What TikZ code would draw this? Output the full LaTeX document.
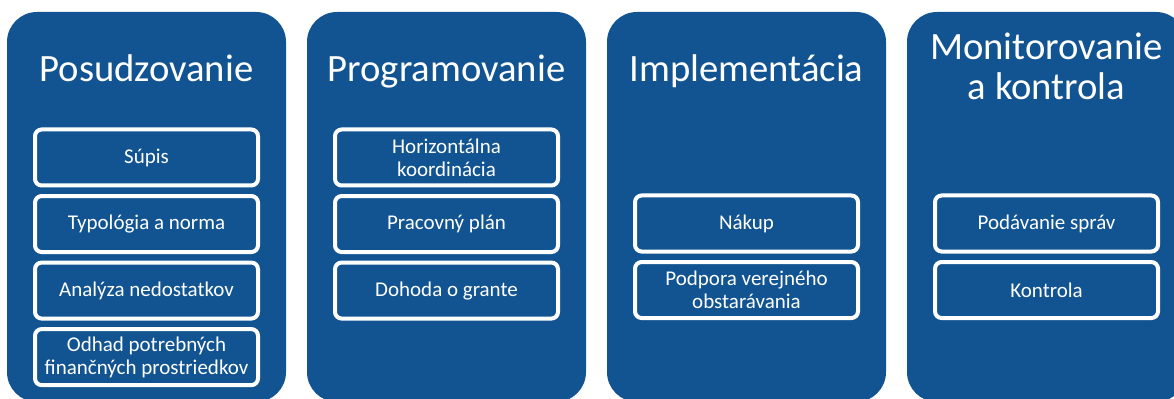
\documentclass[tikz,border=0pt]{standalone}
\usepackage{fontspec}
\setmainfont{Carlito}
\usepackage{tikz}
\usetikzlibrary{positioning}
\definecolor{phaseblue}{RGB}{17,84,145}

\begin{document}
\begin{tikzpicture}[x=0.75pt,y=-0.75pt]
\tikzset{
	phase node/.style = {rectangle, rounded corners = 22.5pt, fill = phaseblue, minimum width = 209.25pt, minimum height = 292.5pt, inner sep = 0},
	title node/.style = {text = white, font = \fontsize{29}{30}\selectfont, align = center, anchor = base},
	step node/.style = {rectangle, rounded corners = 5pt, draw = white, line width = 3pt, text = white, minimum width = 167.25pt, minimum height = 42pt, inner sep = 0, align = center, font = \fontsize{15.75}{17.25}\selectfont},
	node distance = 4.9pt,
}
\useasboundingbox (0,0) rectangle (1174,399);
\clip (0,0) rectangle (1174,399);

% the four phases
\node(pos)[phase node] at (146.5,207){};
\node(prog)[phase node] at (446.5,207){};
\node(impl)[phase node] at (746.5,207){};
\node(mon)[phase node] at (1046.5,207){};

\node(posT)[title node] at (146.5,82){Posudzovanie};
\node(progT)[title node] at (446.5,82){Programovanie};
\node(implT)[title node] at (746.5,82){Implementácia};
\node(monT)[title node] at (1046.5,100){Monitorovanie\\a kontrola};

% steps
\node(supis)[step node] at (146.5,157.5){Súpis};
\node(typ)[step node, below = of supis]{Typológia a norma};
\node(anal)[step node, below = of typ]{Analýza nedostatkov};
\node(odhad)[step node, below = of anal]{Odhad potrebných\\finančných prostriedkov};

\node(horiz)[step node] at (446.5,157.5){Horizontálna\\koordinácia};
\node(plan)[step node, below = of horiz]{Pracovný plán};
\node(grant)[step node, below = of plan]{Dohoda o grante};

\node(nakup)[step node] at (746.5,223.5){Nákup};
\node(obst)[step node, below = of nakup]{Podpora verejného\\obstarávania};

\node(sprav)[step node] at (1046.5,223.5){Podávanie správ};
\node(kontr)[step node, below = of sprav]{Kontrola};

\end{tikzpicture}
\end{document}
